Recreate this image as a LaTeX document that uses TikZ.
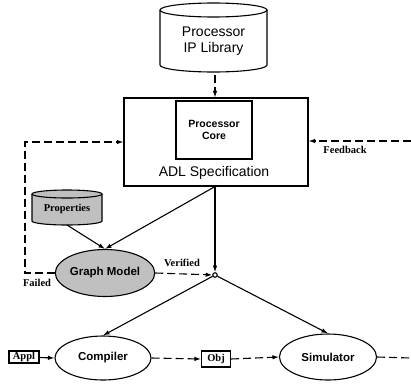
\documentclass[tikz,border=0pt]{standalone}
\usepackage{fontspec}
\setmainfont{Liberation Serif}
\setsansfont{Liberation Sans}
\usetikzlibrary{arrows.meta,shapes.geometric}
\definecolor{shade}{RGB}{192,192,192}
\tikzset{
  every path/.style={line width=1.1pt},
  arr/.style={-{Latex[length=6.5pt,width=4.5pt]}},
  dashline/.style={dash pattern=on 8pt off 4pt},
  serlabel/.style={font=\fontsize{10.5}{12}\selectfont\bfseries},
  sanslabel/.style={font=\fontsize{11.5}{13}\selectfont\sffamily\bfseries},
  bigsans/.style={font=\fontsize{14}{16}\selectfont\sffamily, align=center},
  oval/.style={ellipse, draw, inner sep=0pt, sanslabel},
  smallbox/.style={draw, inner sep=0.5pt, serlabel}
}
\begin{document}
\begin{tikzpicture}[x=1pt,y=1pt]
\useasboundingbox (0,0) rectangle (411,-383);
% Processor IP library cylinder
\draw[fill=white] (160,-10) -- (160,-65) arc[start angle=180,end angle=360,x radius=53.5,y radius=7] -- (267,-10);
\draw (213.5,-10) ellipse[x radius=53.5,y radius=7];
\node[bigsans] (lib) at (213.5,-41) {Processor\\IP Library};
\coordinate (libbot) at (215,-75);
% ADL box
\node[draw, minimum width=184, minimum height=88, inner sep=0] (adl) at (216,-142) {};
\node[draw, minimum width=76, minimum height=58, inner sep=0, font=\fontsize{10.5}{12}\selectfont\sffamily\bfseries, align=center] (core) at (214,-130) {Processor\\Core};
\node[bigsans] (adltext) at (214,-173) {ADL Specification};
% Properties cylinder
\draw[fill=shade] (32,-194) -- (32,-221) arc[start angle=180,end angle=360,x radius=35,y radius=4] -- (102,-194);
\draw[fill=shade] (67,-194) ellipse[x radius=35,y radius=4];
\node[serlabel] (prop) at (67,-209) {Properties};
\coordinate (propbot) at (67,-225);
% Graph model
\node[oval, fill=shade, minimum width=96, minimum height=47] (gm) at (105,-273) {Graph Model};
% junction
\node[circle, draw, fill=white, inner sep=0, minimum size=4.5pt] (j) at (215,-275) {};
% compiler & simulator
\node[oval, minimum width=96, minimum height=44] (comp) at (103,-358) {Compiler};
\node[oval, minimum width=97, minimum height=46] (sim) at (328,-357) {Simulator};
\node[smallbox, minimum width=30, minimum height=12] (appl) at (24,-357) {Appl};
\node[smallbox, minimum width=29, minimum height=16] (obj) at (216,-359) {Obj};
% labels
\node[serlabel] (fb) at (345,-150) {Feedback};
\node[serlabel] (ver) at (182,-263) {Verified};
\node[serlabel] (fail) at (37,-283) {Failed};
% connectors
\coordinate (fbstart) at (411,-141);
\coordinate (simend) at (411,-358);
\coordinate (fl) at (25,-273);
\coordinate (adlb) at (adl.south -| j);
\draw[arr, dashline] (libbot) -- (adl.north -| libbot);
\draw[arr, dashline] (fbstart) -- (adl.east |- fbstart);
\draw[arr, dashline] (gm.west) -- (fl) |- (adl.west);
\draw[arr] (adlb) -- (j);
\draw[arr] (adlb) -- (gm.north);
\draw[arr] (propbot) -- (gm.north);
\draw[arr, dashline] (gm.east) -- (j);
\draw[arr] (j) -- (comp.north);
\draw[arr] (j) -- (sim.north);
\draw[arr] (appl) -- (comp.west);
\draw[arr, dashline] (comp.east) -- (obj.west);
\draw[arr, dashline] (obj.east) -- (sim.west);
\draw[dashline] (sim.east) -- (simend);
\end{tikzpicture}
\end{document}
